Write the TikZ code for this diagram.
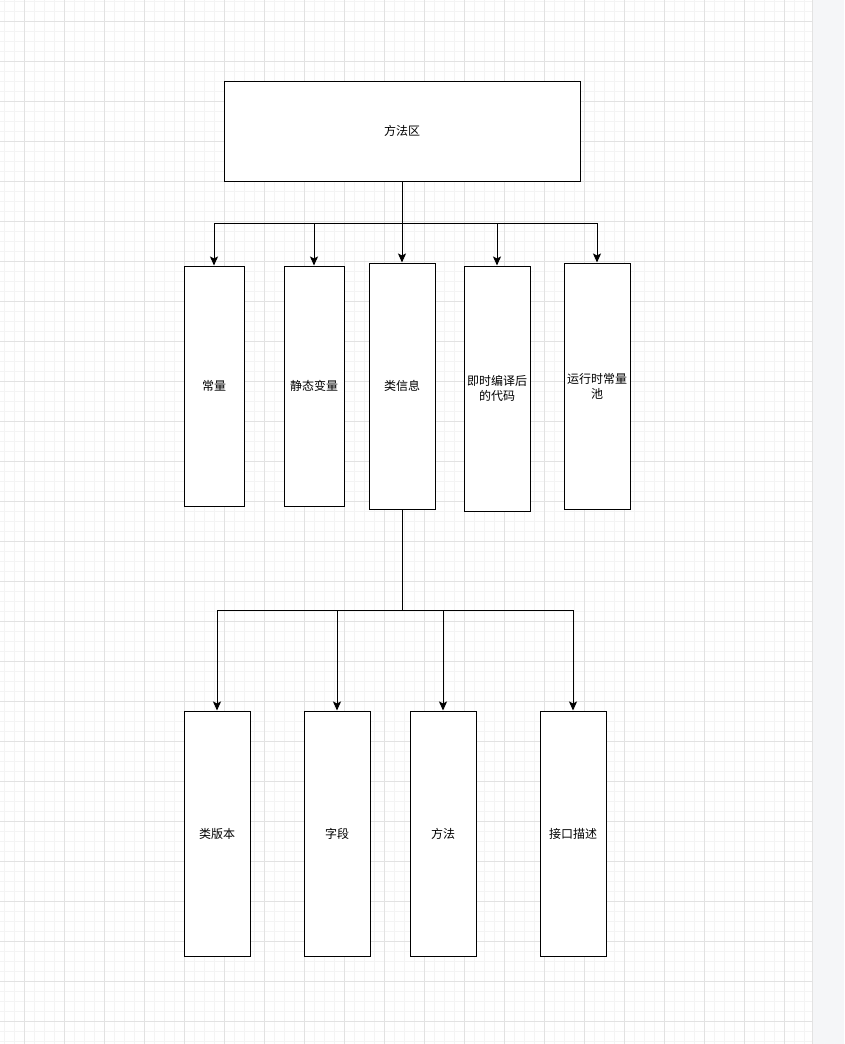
\documentclass[tikz,border=0pt]{standalone}
\usepackage{fontspec}
\newfontfamily\cjk{Noto Sans CJK SC}
\usetikzlibrary{arrows.meta}

\definecolor{gridmineur}{HTML}{F4F4F4}
\definecolor{gridmajeur}{HTML}{E2E2E2}
\definecolor{barre}{HTML}{F5F6F8}

\tikzset{
  boite/.style={draw, line width=1pt, inner sep=0pt, align=center,
    font=\cjk\fontsize{12}{15}\selectfont},
  fleche/.style={line width=1pt, -{Stealth[length=9pt,width=8pt,inset=2pt]}}
}

\begin{document}
\begin{tikzpicture}[x=1pt, y=-1pt]
  % Le fond
  \fill[white] (0,0) rectangle (844,1044);
  \useasboundingbox (0,0) rectangle (844,1044);
  \foreach \x in {4,14,...,804} \draw[gridmineur, line width=1pt] (\x,0) -- (\x,1044);
  \foreach \y in {1,11,...,1041} \draw[gridmineur, line width=1pt] (0,\y) -- (812,\y);
  \foreach \x in {24,64,...,804} \draw[gridmajeur, line width=1pt] (\x,0) -- (\x,1044);
  \foreach \y in {21,61,...,1041} \draw[gridmajeur, line width=1pt] (0,\y) -- (812,\y);
  \fill[barre] (812,0) rectangle (844,1044);
  \draw[gridmajeur, line width=1pt] (812,0) -- (812,1044);

  % Le haut
  \node[boite, fill=white, minimum width=356pt, minimum height=100pt] (zone) at (402,131) {方法区};

  % Les boites du milieu
  \node[boite, fill=white, minimum width=60pt, minimum height=240pt] (const) at (214,386) {常量};
  \node[boite, fill=white, minimum width=60pt, minimum height=240pt] (statique) at (314,386) {静态变量};
  \node[boite, fill=white, minimum width=66pt, minimum height=246pt] (classe) at (402,386) {类信息};
  \node[boite, fill=white, minimum width=66pt, minimum height=245pt] (jit) at (497,388.5) {即时编译后\\的代码};
  \node[boite, fill=white, minimum width=66pt, minimum height=246pt] (pool) at (597,386) {运行时常量\\池};

  % Les boites du bas
  \node[boite, fill=white, minimum width=66pt, minimum height=245pt] (version) at (217,833.5) {类版本};
  \node[boite, fill=white, minimum width=66pt, minimum height=245pt] (champ) at (337,833.5) {字段};
  \node[boite, fill=white, minimum width=66pt, minimum height=245pt] (methode) at (443,833.5) {方法};
  \node[boite, fill=white, minimum width=66pt, minimum height=245pt] (interface) at (573,833.5) {接口描述};

  % Les fleches
  \coordinate (bus1) at (402,223);
  \coordinate (bus2) at (402,610);
  \draw[line width=1pt] (zone.south) -- (bus1);
  \foreach \n in {const,statique,classe,jit,pool}
    \draw[fleche] (bus1) -| (\n.north);
  \draw[line width=1pt] (classe.south) -- (bus2);
  \foreach \n in {version,champ,methode,interface}
    \draw[fleche] (bus2) -| (\n.north);
\end{tikzpicture}
\end{document}
